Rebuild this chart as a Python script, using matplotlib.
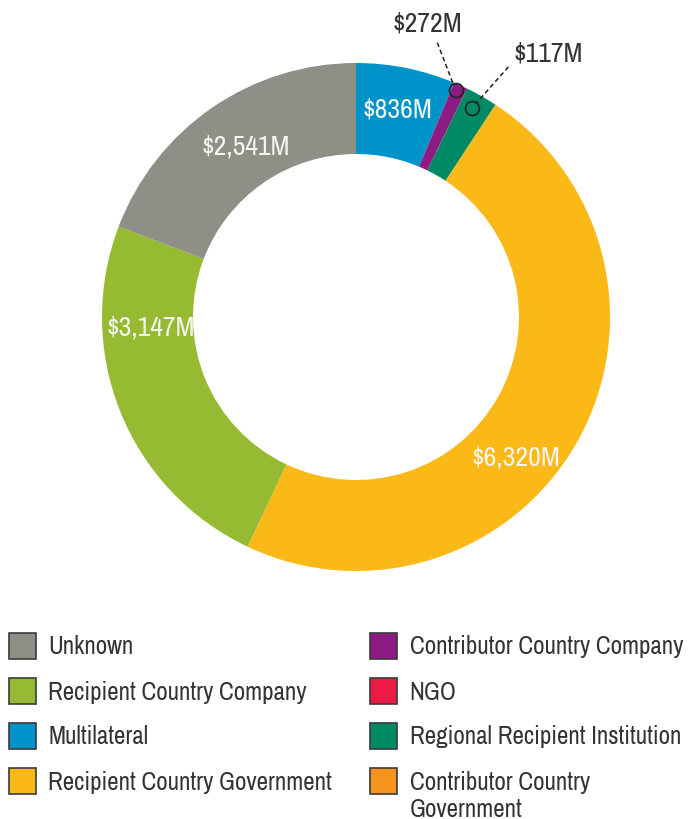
import numpy as np
import matplotlib
matplotlib.use("Agg")
import matplotlib.pyplot as plt
from matplotlib.patches import Rectangle

# categories in clockwise order from 12 o'clock
categories = [
    "Multilateral",
    "Contributor Country Company",
    "NGO",
    "Regional Recipient Institution",
    "Contributor Country Government",
    "Recipient Country Government",
    "Recipient Country Company",
    "Unknown",
]
amounts = [836, 117, 0, 272, 0, 6320, 3147, 2541]
colors = ["#0093c9", "#8e1b83", "#ee1a46", "#008a63", "#f7941d",
          "#fbb917", "#96bb33", "#8f8f87"]
inner_labels = {0: "$836M", 5: "$6,320M", 6: "$3,147M", 7: "$2,541M"}
callout_labels = {1: "$272M", 3: "$117M"}

legend_left = ["Unknown", "Recipient Country Company", "Multilateral",
               "Recipient Country Government"]
legend_right = ["Contributor Country Company", "NGO",
                "Regional Recipient Institution", "Contributor Country\nGovernment"]

plt.rcParams["font.family"] = ["Archivo Narrow", "DejaVu Sans"]
FS = 18
FS_VAL = 20

W, H = 693, 819
fig = plt.figure(figsize=(W / 100, H / 100), dpi=100)
fig.patch.set_facecolor("white")

# pie axes: top 600 px, 254 px per data unit, centre at (356, 317)
R = 254.0
cx, cy = 356.0, 317.0
ax = fig.add_axes([0, 1 - 600 / H, 1, 600 / H])
wedges, _ = ax.pie(amounts, colors=colors, startangle=90, counterclock=False,
                   radius=1.0, wedgeprops=dict(width=91 / R, linewidth=0))
ax.set_xlim(-cx / R, (W - cx) / R)
ax.set_ylim((cy - 600) / R, cy / R)
ax.set_aspect("auto")
ax.axis("off")

total = float(sum(amounts))
cum = np.cumsum([0] + amounts)


def mid_angle(i):
    # math angle (deg) of slice middle
    return 90 - (cum[i] + amounts[i] / 2) / total * 360


# label placement (clockwise-from-top degrees, radius); None = slice middle
label_pos = {0: (None, 0.83), 7: (327, 0.80), 6: (267, 0.81), 5: (131.5, 0.84)}
for i, txt in inner_labels.items():
    a, r = label_pos[i]
    phi = np.deg2rad(mid_angle(i) if a is None else 90 - a)
    ax.text(r * np.cos(phi), r * np.sin(phi), txt, color="#f4f4f0",
            fontsize=FS_VAL, ha="center", va="center", zorder=5)

# callouts for the thin slices
callout_marker_r = {1: 0.975, 3: 0.94}
callout_text_xy = {1: (0.28, 1.155), 3: (0.755, 1.035)}
callout_line_start = {1: (0.32, 1.08), 3: (0.60, 0.985)}
for i, txt in callout_labels.items():
    phi = np.deg2rad(mid_angle(i) + 0.6)
    mx, my = callout_marker_r[i] * np.cos(phi), callout_marker_r[i] * np.sin(phi)
    ax.plot([mx], [my], marker="o", markersize=10, markerfacecolor="none",
            markeredgecolor="#222222", markeredgewidth=1.2, zorder=6)
    sx, sy = callout_line_start[i]
    d = np.hypot(sx - mx, sy - my)
    off = 6 / R
    ax.plot([sx, mx + (sx - mx) / d * off], [sy, my + (sy - my) / d * off],
            color="#222222", linestyle=(0, (3, 2)), linewidth=1.1, zorder=6)
    tx, ty = callout_text_xy[i]
    ax.text(tx, ty, txt, color="#333333", fontsize=FS_VAL, ha="center",
            va="center")

# legend drawn in pixel space
lax = fig.add_axes([0, 0, 1, 219 / H])
lax.set_xlim(0, W)
lax.set_ylim(H, 600)
lax.axis("off")
color_of = dict(zip(categories, colors))
row0, step = 646, 45
for items, x0 in [(legend_left, 8.5), (legend_right, 369.5)]:
    for j, name in enumerate(items):
        yc = row0 + j * step
        key = name.replace("\n", " ")
        lax.add_patch(Rectangle((x0, yc - 13), 27, 26, facecolor=color_of[key],
                                edgecolor="#3a3a3a", linewidth=1.2))
        lax.text(x0 + 40, yc - 10.5, name, color="#333333", fontsize=FS,
                 ha="left", va="top", linespacing=1.22)

fig.savefig("out.png", dpi=100, facecolor="white")
